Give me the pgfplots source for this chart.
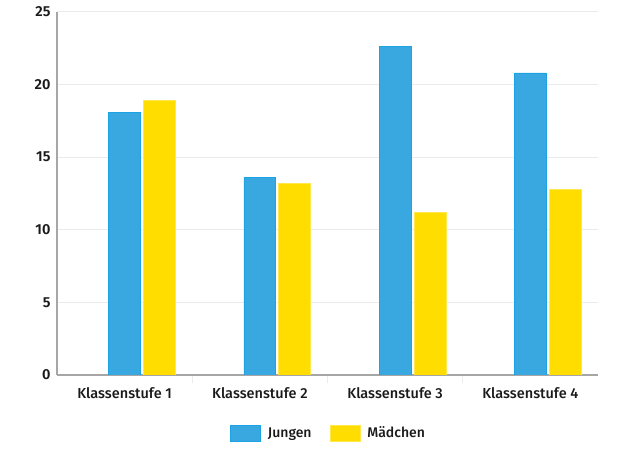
\documentclass[border=0pt]{standalone}
\usepackage{pgfplots}
\pgfplotsset{compat=1.18}
\usepackage{fontspec}
\setmainfont{Fira Sans Medium}[BoldFont=Fira Sans SemiBold]
\definecolor{jblue}{HTML}{3AA8E0}
\definecolor{jblueedge}{HTML}{1BA3E6}
\definecolor{myellow}{HTML}{FFDD00}
\definecolor{gridgray}{HTML}{EBEBEB}
\definecolor{axisgray}{HTML}{A6A6A6}
\definecolor{txt}{HTML}{1A1A1A}
\begin{document}
\begin{tikzpicture}[x=1pt,y=1pt]
\useasboundingbox (0,0) rectangle (635,452);
\begin{axis}[
    at={(57pt,77pt)}, anchor=south west,
    scale only axis,
    width=541pt, height=363pt,
    ymin=0, ymax=25,
    xmin=-0.5, xmax=3.5,
    ytick={0,5,10,15,20,25},
    xtick={0,1,2,3},
    xticklabels={Klassenstufe 1,Klassenstufe 2,Klassenstufe 3,Klassenstufe 4},
    minor xtick={0.5,1.5,2.5},
    major tick length=0pt,
    minor tick length=8pt,
    minor tick style={gridgray, line width=1pt},
    ymajorgrids,
    grid style={gridgray, line width=1pt},
    axis x line*=bottom,
    axis y line*=left,
    axis line style={axisgray, line width=1.5pt},
    tick label style={font=\fontsize{14.5}{17}\selectfont, text=txt},
    yticklabel style={font=\fontsize{14.5}{17}\selectfont\bfseries, xshift=-3pt},
    xticklabel style={yshift=-9pt},
    /pgf/number format/assume math mode=true,
    ybar, bar width=0.236,
    legend columns=2,
    legend style={at={(0.502,-0.16)}, anchor=center, draw=none, fill=none,
        font=\fontsize{14}{17}\selectfont, text=txt,
        /tikz/every odd column/.append style={column sep=5pt},
        /tikz/every even column/.append style={column sep=16pt}},
    legend image code/.code={\draw[#1] (0pt,-8pt) rectangle (30pt,8pt);},
]
\addplot[fill=jblue, draw=jblueedge, line width=0.8pt, bar shift=0] coordinates {
    (0,18.1) (1,13.6) (2,22.6) (3,20.8)
};
\addlegendentry{Jungen}
\addplot[fill=myellow, draw=myellow!70!white, line width=0.8pt, bar shift=0.258] coordinates {
    (0,18.9) (1,13.2) (2,11.2) (3,12.8)
};
\addlegendentry{Mädchen}
\end{axis}
\end{tikzpicture}
\end{document}
